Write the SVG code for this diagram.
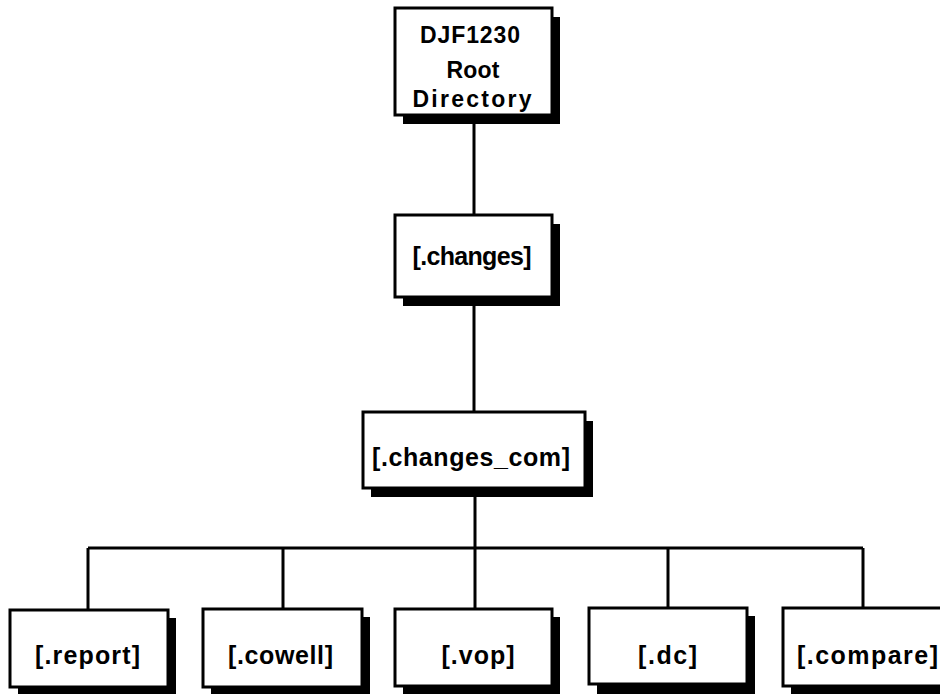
<svg xmlns="http://www.w3.org/2000/svg" width="940" height="694" viewBox="0 0 940 694">
<style>
.box{fill:#fff;stroke:#000;stroke-width:3}
.sh{fill:#000}
.t{font-family:"Liberation Sans",Arial,sans-serif;font-weight:bold;font-size:25px;fill:#000;text-anchor:middle}
.r{font-size:23px}
.c{fill:none;stroke:#000;stroke-width:3}
</style>
<rect width="940" height="694" fill="#fff"/>
<g id="connectors">
<path class="c" d="M474,115 V215 M474,297 V412 M475,488 V548 M88,548 H863 M88,548 V610 M283,548 V609 M475,548 V609 M668,548 V608 M863,548 V608"/>
</g>
<g id="root">
<rect class="sh" x="403" y="17" width="157" height="107"/>
<rect class="box" x="395" y="8" width="157" height="107"/>
<text class="t r" x="470" y="43" textLength="100" lengthAdjust="spacing">DJF1230</text>
<text class="t r" x="473" y="78" textLength="53" lengthAdjust="spacing">Root</text>
<text class="t r" x="472" y="107" textLength="119" lengthAdjust="spacing">Directory</text>
</g>
<g id="changes">
<rect class="sh" x="403" y="224" width="157" height="82"/>
<rect class="box" x="395" y="215" width="157" height="82"/>
<text class="t" x="472" y="265" textLength="119" lengthAdjust="spacing">[.changes]</text>
</g>
<g id="changes_com">
<rect class="sh" x="371" y="421" width="222" height="76"/>
<rect class="box" x="363" y="412" width="222" height="76"/>
<text class="t" x="471" y="466" textLength="198" lengthAdjust="spacing">[.changes_com]</text>
</g>
<g id="report">
<rect class="sh" x="18" y="618" width="158" height="77"/>
<rect class="box" x="10" y="610" width="158" height="77"/>
<text class="t" x="87.5" y="664" textLength="105" lengthAdjust="spacing">[.report]</text>
</g>
<g id="cowell">
<rect class="sh" x="211" y="617" width="159" height="78"/>
<rect class="box" x="203" y="609" width="159" height="78"/>
<text class="t" x="280.5" y="664" textLength="105" lengthAdjust="spacing">[.cowell]</text>
</g>
<g id="vop">
<rect class="sh" x="403" y="617" width="157" height="77"/>
<rect class="box" x="395" y="609" width="157" height="77"/>
<text class="t" x="478" y="664" textLength="73" lengthAdjust="spacing">[.vop]</text>
</g>
<g id="dc">
<rect class="sh" x="597" y="616" width="158" height="78"/>
<rect class="box" x="589" y="608" width="158" height="76"/>
<text class="t" x="667.5" y="664" textLength="59" lengthAdjust="spacing">[.dc]</text>
</g>
<g id="compare">
<rect class="sh" x="791" y="616" width="160" height="78"/>
<rect class="box" x="783" y="608" width="160" height="78"/>
<text class="t" x="867.5" y="664" textLength="141" lengthAdjust="spacing">[.compare]</text>
</g>
</svg>
